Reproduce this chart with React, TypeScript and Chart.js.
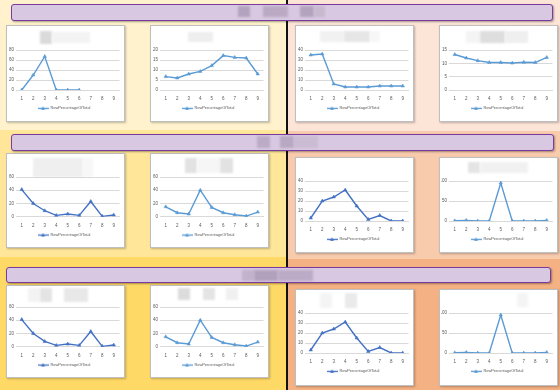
import React, { useEffect, useRef } from "react";
import { Chart, registerables } from "chart.js";
Chart.register(...registerables);

const categories = ["1", "2", "3", "4", "5", "6", "7", "8", "9"];
const seriesLabel = "RowPercentageOfTotal";

const r1a = [0, 30, 67, 0, 0, 0, null, null, null];
const r1b = [6.7, 6, 8, 9.3, 12.2, 17.2, 16.3, 16, 8];
const r1c = [35, 36, 6, 3, 3, 3, 4, 4, 4];
const r1d = [13.3, 12, 11, 10.3, 10.3, 10.1, 10.4, 10.3, 12.2];
const r2a = [41, 20, 9, 2, 4, 2, 23, 0.5, 2.5];
const r2b = [15, 6, 4, 40, 14, 6, 3, 1, 7];
const r2c = [3, 20, 24, 31, 15, 1.5, 5.5, 0, 0];
const r2d = [0.5, 1.5, 0, 0, 95, 0, 0, 0, 1.5];
const r3a = [41, 20, 8, 2, 4, 2, 23, 0.5, 2.5];
const r3b = [15, 6, 4, 40, 14, 6, 3, 1, 7];
const r3c = [3, 20, 24, 31, 15, 1.5, 5.5, 0, 0];
const r3d = [0.5, 1.5, 0, 0, 95, 0, 0, 0, 1.5];

const LIGHT = "#5B9BD5";
const DARK = "#4472C4";
const FONT = '"Liberation Sans", Arial, sans-serif';

type Blk = { x: number; y: number; w: number; h: number; c: string };

type PanelDef = {
  left: number; top: number; width: number; height: number;
  plotTop: number; values: (number | null)[]; color: string; max: number; step: number;
  title: Blk[];
};

const panels: PanelDef[] = [
  { left: 6, top: 25, width: 119, height: 97, plotTop: 25, values: r1a, color: LIGHT, max: 80, step: 20,
    title: [{ x: 40, y: 31, w: 12, h: 13, c: "#DADADA" }, { x: 52, y: 32, w: 38, h: 11, c: "#F3F3F3" }] },
  { left: 150, top: 25, width: 119, height: 97, plotTop: 25, values: r1b, color: LIGHT, max: 20, step: 5,
    title: [{ x: 188, y: 32, w: 25, h: 10, c: "#EEEEEE" }] },
  { left: 295, top: 25, width: 119, height: 97, plotTop: 25, values: r1c, color: LIGHT, max: 40, step: 10,
    title: [{ x: 320, y: 31, w: 24, h: 11, c: "#F1F1F1" }, { x: 344, y: 31, w: 26, h: 11, c: "#E6E6E6" }, { x: 370, y: 31, w: 10, h: 11, c: "#F7F7F7" }] },
  { left: 439, top: 25, width: 119, height: 97, plotTop: 25, values: r1d, color: LIGHT, max: 15, step: 5,
    title: [{ x: 466, y: 31, w: 14, h: 12, c: "#F4F4F4" }, { x: 480, y: 31, w: 25, h: 12, c: "#DEDEDE" }, { x: 505, y: 31, w: 23, h: 12, c: "#EFEFEF" }] },

  { left: 6, top: 153, width: 119, height: 95, plotTop: 24, values: r2a, color: DARK, max: 60, step: 20,
    title: [{ x: 33, y: 158, w: 50, h: 19, c: "#EFEFEF" }, { x: 83, y: 158, w: 10, h: 19, c: "#F7F7F7" }] },
  { left: 150, top: 153, width: 119, height: 95, plotTop: 24, values: r2b, color: LIGHT, max: 60, step: 20,
    title: [{ x: 185, y: 158, w: 12, h: 15, c: "#E2E2E2" }, { x: 197, y: 158, w: 23, h: 15, c: "#F6F6F6" }, { x: 220, y: 158, w: 13, h: 15, c: "#E2E2E2" }] },
  { left: 295, top: 157, width: 119, height: 96, plotTop: 24, values: r2c, color: DARK, max: 40, step: 10,
    title: [] },
  { left: 439, top: 157, width: 119, height: 96, plotTop: 24, values: r2d, color: LIGHT, max: 100, step: 50,
    title: [{ x: 468, y: 162, w: 12, h: 11, c: "#E4E4E4" }, { x: 480, y: 162, w: 48, h: 11, c: "#F1F1F1" }] },

  { left: 6, top: 285, width: 119, height: 93, plotTop: 22, values: r3a, color: DARK, max: 60, step: 20,
    title: [{ x: 28, y: 288, w: 12, h: 14, c: "#F3F3F3" }, { x: 40, y: 288, w: 12, h: 14, c: "#E4E4E4" }, { x: 64, y: 288, w: 24, h: 14, c: "#E8E8E8" }] },
  { left: 150, top: 285, width: 119, height: 93, plotTop: 22, values: r3b, color: LIGHT, max: 60, step: 20,
    title: [{ x: 178, y: 288, w: 12, h: 12, c: "#DCDCDC" }, { x: 203, y: 288, w: 12, h: 12, c: "#E4E4E4" }, { x: 226, y: 288, w: 12, h: 12, c: "#F0F0F0" }] },
  { left: 295, top: 289, width: 119, height: 97, plotTop: 24, values: r3c, color: DARK, max: 40, step: 10,
    title: [{ x: 320, y: 293, w: 12, h: 15, c: "#F4F4F4" }, { x: 345, y: 293, w: 12, h: 15, c: "#EAEAEA" }] },
  { left: 439, top: 289, width: 119, height: 97, plotTop: 24, values: r3d, color: LIGHT, max: 100, step: 50,
    title: [{ x: 517, y: 293, w: 11, h: 14, c: "#F4F4F4" }] },
];

function makeIcon(color: string) {
  const c = document.createElement("canvas");
  c.width = 11;
  c.height = 5;
  const ctx = c.getContext("2d")!;
  ctx.strokeStyle = color;
  ctx.lineWidth = 1.3;
  ctx.beginPath();
  ctx.moveTo(0, 2.5);
  ctx.lineTo(11, 2.5);
  ctx.stroke();
  ctx.fillStyle = color;
  ctx.beginPath();
  ctx.moveTo(5.5, 0.5);
  ctx.lineTo(7.5, 4);
  ctx.lineTo(3.5, 4);
  ctx.closePath();
  ctx.fill();
  return c;
}

function MiniChart({ p }: { p: PanelDef }) {
  const ref = useRef<HTMLCanvasElement>(null);
  useEffect(() => {
    const ch = p.height - 2;
    const padTop = p.plotTop - 1;
    const xH = 13;
    const legendFont = 3.9;
    const legendPad = 3.4;
    const legendH = legendFont + legendPad + 10;
    const padBottom = Math.max(0, ch - padTop - 40 - xH - legendH);
    const icon = makeIcon(p.color);
    const chart = new Chart(ref.current!, {
      type: "line",
      data: {
        labels: categories,
        datasets: [
          {
            label: seriesLabel,
            data: p.values,
            borderColor: p.color,
            backgroundColor: p.color,
            borderWidth: 1.4,
            pointStyle: "triangle",
            pointRadius: 2,
            pointBorderWidth: 0.5,
            tension: 0,
            spanGaps: false,
          },
        ],
      },
      options: {
        animation: false,
        responsive: false,
        maintainAspectRatio: false,
        layout: { padding: { top: padTop, left: 1, right: 4, bottom: padBottom } },
        plugins: {
          tooltip: { enabled: false },
          legend: {
            position: "bottom",
            labels: {
              font: { size: legendFont, family: FONT },
              color: "#595959",
              usePointStyle: true,
              pointStyleWidth: 11,
              padding: legendPad,
              generateLabels: (chart: any) => {
                const items = (Chart.defaults.plugins.legend.labels as any).generateLabels(chart);
                items.forEach((i: any) => (i.pointStyle = icon));
                return items;
              },
            },
          },
        },
        scales: {
          x: {
            offset: true,
            grid: { display: false, drawTicks: false },
            border: { display: true, color: "#D9D9D9", width: 1 },
            ticks: { font: { size: 4.5, family: FONT }, color: "#595959", padding: 6, maxRotation: 0, autoSkip: false },
            afterFit: (s: any) => { s.height = xH; },
          },
          y: {
            min: 0,
            max: p.max,
            ticks: { stepSize: p.step, font: { size: 4.5, family: FONT }, color: "#595959", padding: 2 },
            grid: { color: "#D9D9D9", drawTicks: false, lineWidth: 1 },
            border: { display: false },
            afterFit: (s: any) => { s.width = 8; },
          },
        },
      },
    } as any);
    return () => chart.destroy();
  }, [p]);
  return (
    <div
      style={{
        position: "absolute",
        left: p.left,
        top: p.top,
        width: p.width,
        height: p.height,
        boxSizing: "border-box",
        background: "#FFFFFF",
        border: "1px solid #BFBFBF",
        boxShadow: "1px 1px 2px rgba(0,0,0,0.25)",
      }}
    >
      {p.title.map((b, i) => (
        <div
          key={i}
          style={{
            position: "absolute",
            left: b.x - p.left - 1,
            top: b.y - p.top - 1,
            width: b.w,
            height: b.h,
            background: b.c,
            filter: "blur(0.8px)",
          }}
        />
      ))}
      <canvas
        ref={ref}
        width={p.width - 2}
        height={p.height - 2}
        style={{ position: "absolute", left: 0, top: 0, width: p.width - 2, height: p.height - 2 }}
      />
    </div>
  );
}

type HeaderDef = { left: number; top: number; width: number; height: number; blocks: Blk[] };

const headers: HeaderDef[] = [
  { left: 11, top: 4, width: 542, height: 17,
    blocks: [{ x: 238, y: 6, w: 12, h: 11, c: "#B3A3BE" }, { x: 263, y: 6, w: 25, h: 11, c: "#BBA9C4" }, { x: 300, y: 6, w: 14, h: 11, c: "#B3A3BE" }, { x: 314, y: 6, w: 11, h: 11, c: "#C8B8D0" }] },
  { left: 11, top: 134, width: 543, height: 17,
    blocks: [{ x: 257, y: 136, w: 13, h: 12, c: "#BCABC6" }, { x: 280, y: 136, w: 14, h: 12, c: "#B9A8C3" }, { x: 294, y: 136, w: 24, h: 12, c: "#CBBBD3" }] },
  { left: 6, top: 267, width: 545, height: 16,
    blocks: [{ x: 242, y: 270, w: 12, h: 11, c: "#C2B2CB" }, { x: 254, y: 270, w: 24, h: 11, c: "#B2A1BD" }, { x: 278, y: 270, w: 35, h: 11, c: "#BCABC6" }] },
];

function Header({ h }: { h: HeaderDef }) {
  return (
    <div
      style={{
        position: "absolute",
        left: h.left,
        top: h.top,
        width: h.width,
        height: h.height,
        boxSizing: "border-box",
        background: "#D8C8E2",
        border: "1.5px solid #7A3A9E",
        borderRadius: 3,
        boxShadow: "1px 1px 2px rgba(0,0,0,0.35)",
        overflow: "hidden",
      }}
    >
      {h.blocks.map((b, i) => (
        <div
          key={i}
          style={{
            position: "absolute",
            left: b.x - h.left - 1.5,
            top: b.y - h.top - 1.5,
            width: b.w,
            height: b.h,
            background: b.c,
            filter: "blur(0.8px)",
          }}
        />
      ))}
    </div>
  );
}

const bgRects = [
  { x: 0, y: 0, w: 287, h: 130, c: "#FFF2CC" },
  { x: 287, y: 0, w: 273, h: 131, c: "#FCE4D6" },
  { x: 0, y: 130, w: 287, h: 127, c: "#FFE699" },
  { x: 287, y: 131, w: 273, h: 128, c: "#F8CBAD" },
  { x: 0, y: 257, w: 287, h: 133, c: "#FFD966" },
  { x: 287, y: 259, w: 273, h: 131, c: "#F4B183" },
];

export default function App() {
  return (
    <div style={{ position: "absolute", left: 0, top: 0, width: 560, height: 390, overflow: "hidden", background: "#FFF2CC" }}>
      {bgRects.map((r, i) => (
        <div key={i} style={{ position: "absolute", left: r.x, top: r.y, width: r.w, height: r.h, background: r.c }} />
      ))}
      <div style={{ position: "absolute", left: 286, top: 0, width: 2, height: 390, background: "#111111" }} />
      {panels.map((p, i) => (
        <MiniChart key={i} p={p} />
      ))}
      {headers.map((h, i) => (
        <Header key={i} h={h} />
      ))}
    </div>
  );
}
